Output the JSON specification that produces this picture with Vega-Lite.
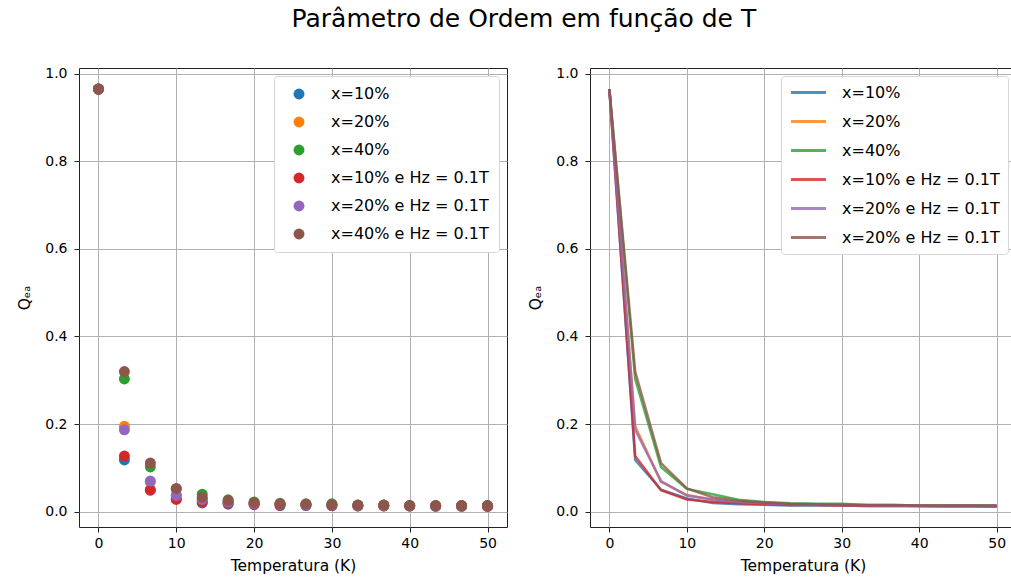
{
  "$schema": "https://vega.github.io/schema/vega-lite/v6.json",
  "padding": {"left": 17, "top": 7, "right": 0, "bottom": 0},
  "title": {
    "text": "Parâmetro de Ordem em função de T",
    "font": "DejaVu Sans",
    "fontSize": 25,
    "fontWeight": "normal",
    "color": "#000",
    "anchor": "middle",
    "offset": 34,
    "dx": 7
  },
  "data": {
    "values": [
      {"T": 0, "Q": 0.965, "serie": "x=10%"},
      {"T": 3.3333, "Q": 0.118, "serie": "x=10%"},
      {"T": 6.6667, "Q": 0.050, "serie": "x=10%"},
      {"T": 10, "Q": 0.030, "serie": "x=10%"},
      {"T": 13.3333, "Q": 0.020, "serie": "x=10%"},
      {"T": 16.6667, "Q": 0.017, "serie": "x=10%"},
      {"T": 20, "Q": 0.016, "serie": "x=10%"},
      {"T": 23.3333, "Q": 0.014, "serie": "x=10%"},
      {"T": 26.6667, "Q": 0.014, "serie": "x=10%"},
      {"T": 30, "Q": 0.014, "serie": "x=10%"},
      {"T": 33.3333, "Q": 0.013, "serie": "x=10%"},
      {"T": 36.6667, "Q": 0.013, "serie": "x=10%"},
      {"T": 40, "Q": 0.013, "serie": "x=10%"},
      {"T": 43.3333, "Q": 0.012, "serie": "x=10%"},
      {"T": 46.6667, "Q": 0.012, "serie": "x=10%"},
      {"T": 50, "Q": 0.012, "serie": "x=10%"},
      {"T": 0, "Q": 0.965, "serie": "x=20%"},
      {"T": 3.3333, "Q": 0.195, "serie": "x=20%"},
      {"T": 6.6667, "Q": 0.068, "serie": "x=20%"},
      {"T": 10, "Q": 0.038, "serie": "x=20%"},
      {"T": 13.3333, "Q": 0.027, "serie": "x=20%"},
      {"T": 16.6667, "Q": 0.021, "serie": "x=20%"},
      {"T": 20, "Q": 0.018, "serie": "x=20%"},
      {"T": 23.3333, "Q": 0.017, "serie": "x=20%"},
      {"T": 26.6667, "Q": 0.016, "serie": "x=20%"},
      {"T": 30, "Q": 0.015, "serie": "x=20%"},
      {"T": 33.3333, "Q": 0.014, "serie": "x=20%"},
      {"T": 36.6667, "Q": 0.014, "serie": "x=20%"},
      {"T": 40, "Q": 0.013, "serie": "x=20%"},
      {"T": 43.3333, "Q": 0.013, "serie": "x=20%"},
      {"T": 46.6667, "Q": 0.013, "serie": "x=20%"},
      {"T": 50, "Q": 0.013, "serie": "x=20%"},
      {"T": 0, "Q": 0.965, "serie": "x=40%"},
      {"T": 3.3333, "Q": 0.303, "serie": "x=40%"},
      {"T": 6.6667, "Q": 0.102, "serie": "x=40%"},
      {"T": 10, "Q": 0.052, "serie": "x=40%"},
      {"T": 13.3333, "Q": 0.040, "serie": "x=40%"},
      {"T": 16.6667, "Q": 0.027, "serie": "x=40%"},
      {"T": 20, "Q": 0.022, "serie": "x=40%"},
      {"T": 23.3333, "Q": 0.019, "serie": "x=40%"},
      {"T": 26.6667, "Q": 0.018, "serie": "x=40%"},
      {"T": 30, "Q": 0.018, "serie": "x=40%"},
      {"T": 33.3333, "Q": 0.015, "serie": "x=40%"},
      {"T": 36.6667, "Q": 0.015, "serie": "x=40%"},
      {"T": 40, "Q": 0.014, "serie": "x=40%"},
      {"T": 43.3333, "Q": 0.014, "serie": "x=40%"},
      {"T": 46.6667, "Q": 0.014, "serie": "x=40%"},
      {"T": 50, "Q": 0.014, "serie": "x=40%"},
      {"T": 0, "Q": 0.965, "serie": "x=10% e Hz = 0.1T"},
      {"T": 3.3333, "Q": 0.127, "serie": "x=10% e Hz = 0.1T"},
      {"T": 6.6667, "Q": 0.049, "serie": "x=10% e Hz = 0.1T"},
      {"T": 10, "Q": 0.028, "serie": "x=10% e Hz = 0.1T"},
      {"T": 13.3333, "Q": 0.022, "serie": "x=10% e Hz = 0.1T"},
      {"T": 16.6667, "Q": 0.019, "serie": "x=10% e Hz = 0.1T"},
      {"T": 20, "Q": 0.017, "serie": "x=10% e Hz = 0.1T"},
      {"T": 23.3333, "Q": 0.015, "serie": "x=10% e Hz = 0.1T"},
      {"T": 26.6667, "Q": 0.015, "serie": "x=10% e Hz = 0.1T"},
      {"T": 30, "Q": 0.014, "serie": "x=10% e Hz = 0.1T"},
      {"T": 33.3333, "Q": 0.013, "serie": "x=10% e Hz = 0.1T"},
      {"T": 36.6667, "Q": 0.013, "serie": "x=10% e Hz = 0.1T"},
      {"T": 40, "Q": 0.013, "serie": "x=10% e Hz = 0.1T"},
      {"T": 43.3333, "Q": 0.013, "serie": "x=10% e Hz = 0.1T"},
      {"T": 46.6667, "Q": 0.013, "serie": "x=10% e Hz = 0.1T"},
      {"T": 50, "Q": 0.012, "serie": "x=10% e Hz = 0.1T"},
      {"T": 0, "Q": 0.965, "serie": "x=20% e Hz = 0.1T"},
      {"T": 3.3333, "Q": 0.187, "serie": "x=20% e Hz = 0.1T"},
      {"T": 6.6667, "Q": 0.070, "serie": "x=20% e Hz = 0.1T"},
      {"T": 10, "Q": 0.037, "serie": "x=20% e Hz = 0.1T"},
      {"T": 13.3333, "Q": 0.028, "serie": "x=20% e Hz = 0.1T"},
      {"T": 16.6667, "Q": 0.022, "serie": "x=20% e Hz = 0.1T"},
      {"T": 20, "Q": 0.019, "serie": "x=20% e Hz = 0.1T"},
      {"T": 23.3333, "Q": 0.017, "serie": "x=20% e Hz = 0.1T"},
      {"T": 26.6667, "Q": 0.015, "serie": "x=20% e Hz = 0.1T"},
      {"T": 30, "Q": 0.015, "serie": "x=20% e Hz = 0.1T"},
      {"T": 33.3333, "Q": 0.014, "serie": "x=20% e Hz = 0.1T"},
      {"T": 36.6667, "Q": 0.014, "serie": "x=20% e Hz = 0.1T"},
      {"T": 40, "Q": 0.013, "serie": "x=20% e Hz = 0.1T"},
      {"T": 43.3333, "Q": 0.013, "serie": "x=20% e Hz = 0.1T"},
      {"T": 46.6667, "Q": 0.013, "serie": "x=20% e Hz = 0.1T"},
      {"T": 50, "Q": 0.013, "serie": "x=20% e Hz = 0.1T"},
      {"T": 0, "Q": 0.965, "serie": "x=40% e Hz = 0.1T"},
      {"T": 3.3333, "Q": 0.320, "serie": "x=40% e Hz = 0.1T"},
      {"T": 6.6667, "Q": 0.111, "serie": "x=40% e Hz = 0.1T"},
      {"T": 10, "Q": 0.053, "serie": "x=40% e Hz = 0.1T"},
      {"T": 13.3333, "Q": 0.033, "serie": "x=40% e Hz = 0.1T"},
      {"T": 16.6667, "Q": 0.025, "serie": "x=40% e Hz = 0.1T"},
      {"T": 20, "Q": 0.021, "serie": "x=40% e Hz = 0.1T"},
      {"T": 23.3333, "Q": 0.018, "serie": "x=40% e Hz = 0.1T"},
      {"T": 26.6667, "Q": 0.017, "serie": "x=40% e Hz = 0.1T"},
      {"T": 30, "Q": 0.016, "serie": "x=40% e Hz = 0.1T"},
      {"T": 33.3333, "Q": 0.015, "serie": "x=40% e Hz = 0.1T"},
      {"T": 36.6667, "Q": 0.015, "serie": "x=40% e Hz = 0.1T"},
      {"T": 40, "Q": 0.014, "serie": "x=40% e Hz = 0.1T"},
      {"T": 43.3333, "Q": 0.014, "serie": "x=40% e Hz = 0.1T"},
      {"T": 46.6667, "Q": 0.014, "serie": "x=40% e Hz = 0.1T"},
      {"T": 50, "Q": 0.014, "serie": "x=40% e Hz = 0.1T"}
    ]
  },
  "spacing": 20,
  "hconcat": [
    {
      "width": 428,
      "height": 459,
      "mark": {"type": "point", "filled": true, "size": 120, "opacity": 1},
      "encoding": {
        "x": {
          "field": "T", "type": "quantitative",
          "scale": {"domain": [-2.5, 52.5], "nice": false, "zero": false},
          "axis": {"values": [0, 10, 20, 30, 40, 50], "title": "Temperatura (K)"}
        },
        "y": {
          "field": "Q", "type": "quantitative",
          "scale": {"domain": [-0.035, 1.013], "nice": false, "zero": false},
          "axis": {"values": [0, 0.2, 0.4, 0.6, 0.8, 1.0], "format": ".1f", "title": "Qₑₐ"}
        },
        "color": {
          "field": "serie", "type": "nominal",
          "scale": {
            "domain": ["x=10%", "x=20%", "x=40%", "x=10% e Hz = 0.1T", "x=20% e Hz = 0.1T", "x=40% e Hz = 0.1T"],
            "range": ["#1f77b4", "#ff7f0e", "#2ca02c", "#d62728", "#9467bd", "#8c564b"]
          },
          "legend": {
            "title": null,
            "symbolType": "circle",
            "symbolSize": 120,
            "symbolOffset": 7,
            "labelOffset": 24,
            "rowPadding": 12
          }
        }
      }
    },
    {
      "width": 426,
      "height": 459,
      "mark": {"type": "line", "strokeWidth": 2.5, "opacity": 0.8},
      "encoding": {
        "x": {
          "field": "T", "type": "quantitative",
          "scale": {"domain": [-2.5, 52.5], "nice": false, "zero": false},
          "axis": {"values": [0, 10, 20, 30, 40, 50], "title": "Temperatura (K)"}
        },
        "y": {
          "field": "Q", "type": "quantitative",
          "scale": {"domain": [-0.035, 1.013], "nice": false, "zero": false},
          "axis": {"values": [0, 0.2, 0.4, 0.6, 0.8, 1.0], "format": ".1f", "title": "Qₑₐ"}
        },
        "color": {
          "field": "serie", "type": "nominal",
          "scale": {
            "domain": ["x=10%", "x=20%", "x=40%", "x=10% e Hz = 0.1T", "x=20% e Hz = 0.1T", "x=40% e Hz = 0.1T"],
            "range": ["#1f77b4", "#ff7f0e", "#2ca02c", "#d62728", "#9467bd", "#8c564b"]
          },
          "legend": {
            "title": null,
            "symbolType": "M-2.5,0L2.5,0",
            "symbolSize": 196,
            "symbolStrokeWidth": 3,
            "symbolOpacity": 0.8,
            "symbolOffset": 11,
            "labelOffset": 25,
            "rowPadding": 12,
            "padding": 8,
            "labelExpr": "replace(datum.label, 'x=40% e', 'x=20% e')"
          }
        }
      }
    }
  ],
  "resolve": {"scale": {"color": "independent"}, "legend": {"color": "independent"}},
  "config": {
    "font": "DejaVu Sans",
    "background": "white",
    "view": {"stroke": "#222", "strokeWidth": 1},
    "axis": {
      "grid": true,
      "gridColor": "#b0b0b0",
      "gridWidth": 1,
      "domain": false,
      "ticks": true,
      "tickColor": "#222",
      "tickSize": 5,
      "labelFont": "DejaVu Sans",
      "labelFontSize": 14,
      "labelColor": "#000",
      "titleFont": "DejaVu Sans",
      "titleFontSize": 15.5,
      "titleFontWeight": "normal",
      "titleColor": "#000"
    },
    "axisX": {"labelPadding": 4, "titlePadding": 8},
    "axisY": {"labelPadding": 7, "titlePadding": 12},
    "legend": {
      "orient": "top-right",
      "offset": 8,
      "fillColor": "white",
      "strokeColor": "#d6d6d6",
      "cornerRadius": 3,
      "padding": 10,
      "labelFont": "DejaVu Sans",
      "labelFontSize": 16,
      "labelColor": "#000",
      "labelLimit": 300,
      "symbolOpacity": 1
    }
  }
}
